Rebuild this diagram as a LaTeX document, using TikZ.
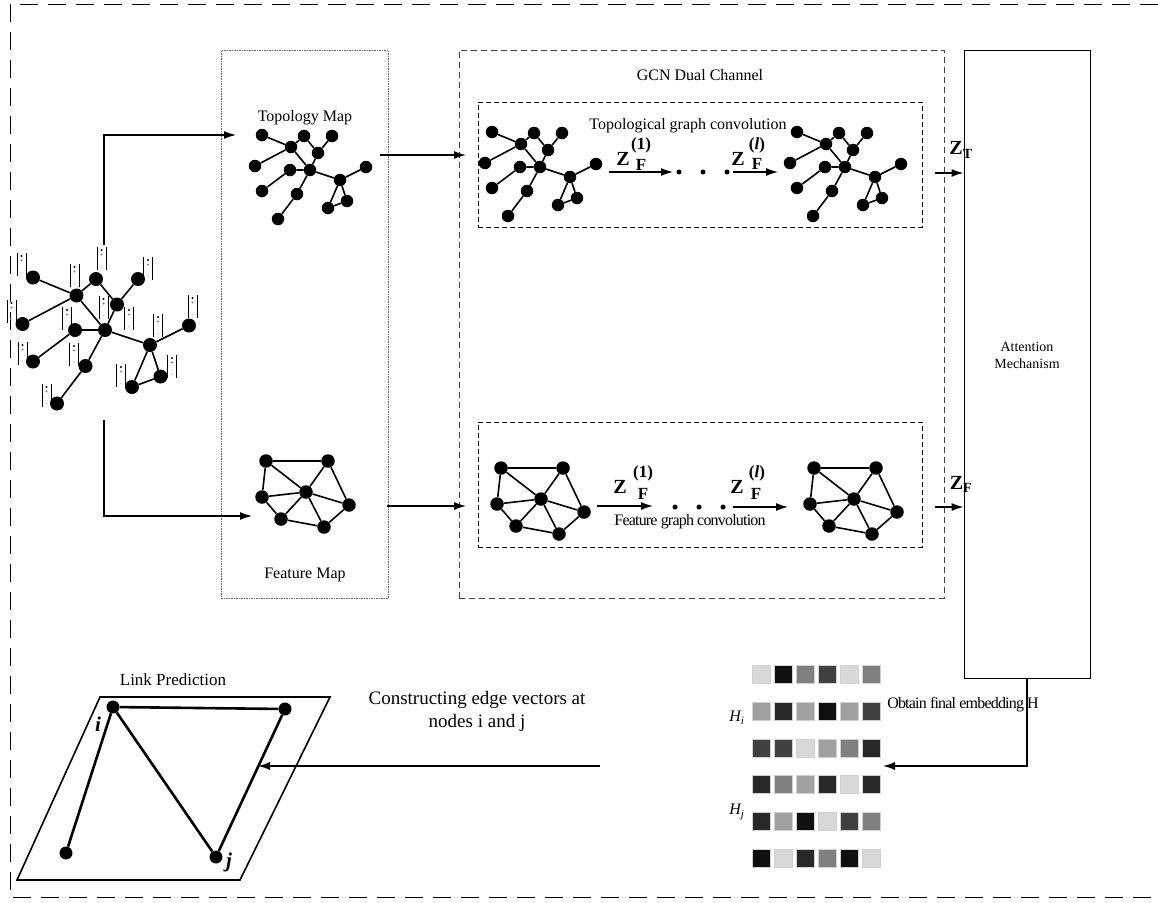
\documentclass[tikz,border=0pt]{standalone}
\usepackage{fontspec}
\setmainfont{Liberation Serif}
\usetikzlibrary{arrows.meta}
\definecolor{g1}{HTML}{101010}
\definecolor{g2}{HTML}{282828}
\definecolor{g3}{HTML}{404040}
\definecolor{g4}{HTML}{808080}
\definecolor{g5}{HTML}{A0A0A0}
\definecolor{g6}{HTML}{D8D8D8}
\newcommand\topog[5]{%
\begin{scope}[shift={(#2,#3)},scale=#4]
\node[#5] (#1A) at (-48,-35) {};
\node[#5] (#1B) at (-19,-23) {};
\node[#5] (#1C) at (-6,-34) {};
\node[#5] (#1D) at (22,-34) {};
\node[#5] (#1E) at (8,-17) {};
\node[#5] (#1F) at (-55,-4) {};
\node[#5] (#1G) at (-20,0) {};
\node[#5] (#1H) at (0,0) {};
\node[#5] (#1I) at (56,-3) {};
\node[#5] (#1J) at (30,10) {};
\node[#5] (#1K) at (-48,21) {};
\node[#5] (#1L) at (-13,24) {};
\node[#5] (#1M) at (37,31) {};
\node[#5] (#1N) at (18,38) {};
\node[#5] (#1O) at (-32,49) {};
\end{scope}
\draw[ed] (#1A)--(#1B) (#1F)--(#1B) (#1B)--(#1C) (#1C)--(#1E) (#1E)--(#1D) (#1E)--(#1H)
 (#1B)--(#1H) (#1G)--(#1H) (#1K)--(#1G) (#1H)--(#1L) (#1L)--(#1O) (#1H)--(#1J)
 (#1J)--(#1I) (#1J)--(#1N) (#1J)--(#1M) (#1M)--(#1N);
}
\newcommand\featg[4]{%
\begin{scope}[shift={(#2,#3)}]
\node[#4] (#1c) at (0,0) {};
\node[#4] (#1a) at (-40,-31) {};
\node[#4] (#1b) at (22,-31) {};
\node[#4] (#1d) at (-44,5) {};
\node[#4] (#1e) at (43,13) {};
\node[#4] (#1f) at (-25,27) {};
\node[#4] (#1g) at (18,35) {};
\end{scope}
\draw[ed] (#1a)--(#1b) (#1a)--(#1d) (#1a)--(#1c) (#1b)--(#1c) (#1b)--(#1e) (#1d)--(#1c)
 (#1d)--(#1f) (#1f)--(#1c) (#1f)--(#1g) (#1g)--(#1c) (#1g)--(#1e) (#1e)--(#1c);
}
\newcommand\vicon[2]{%
\draw[line width=1pt] ({#1-4.5},{#2})--({#1-4.5},{#2+23}) ({#1+4.5},{#2})--({#1+4.5},{#2+23});
\fill[black] ({#1},{#2+3}) circle (1.2pt);
\fill[g4] ({#1},{#2+7.5}) circle (1.2pt);
\fill[g6] ({#1},{#2+19.5}) circle (1.2pt);
}
\begin{document}
\begin{tikzpicture}[x=1pt,y=-1pt,
 gn/.style={circle,fill=black,inner sep=0pt,minimum size=12.5pt},
 bn/.style={circle,fill=black,inner sep=0pt,minimum size=14pt},
 fn/.style={circle,fill=black,inner sep=0pt,minimum size=13.5pt},
 ln/.style={circle,fill=black,inner sep=0pt,minimum size=13pt},
 ed/.style={line width=1.6pt},
 arr/.style={-{Latex[length=12pt,width=8pt]},line width=1.2pt},
 txt/.style={font=\fontsize{16}{19}\selectfont,inner sep=0pt},
 ctxt/.style={font=\fontsize{16}{19}\selectfont\addfontfeature{LetterSpace=-5},inner sep=0pt},
 ztx/.style={font=\fontsize{20}{21}\selectfont\bfseries,inner sep=0pt},
 zsm/.style={font=\fontsize{17}{18}\selectfont\bfseries,inner sep=0pt},
 outer/.style={dash pattern=on 18pt off 10pt,line width=1pt},
 gbox/.style={draw=black!75,dash pattern=on 6pt off 4pt,line width=0.9pt},
 ibox/.style={draw=black,dash pattern=on 5pt off 3pt,line width=0.9pt},
 dbox/.style={draw=black!60,dash pattern=on 1.5pt off 1pt,line width=1pt},
 cell/.style={draw=black!18,line width=0.7pt,minimum size=18pt,inner sep=0pt},
 dot/.style={circle,fill=black,inner sep=0pt,minimum size=5pt}
]
\useasboundingbox (0,0) rectangle (1158,902);
% outer dashed frame
\coordinate (o1) at (1158,4); \coordinate (o2) at (10,4);
\coordinate (o3) at (10,897); \coordinate (o4) at (1158,897);
\draw[outer] (o1) -- (o2) -- (o3) -- (o4);

% boxes
\node[dbox,minimum width=167pt,minimum height=548pt] (mapbox) at (304.5,324) {};
\node[gbox,minimum width=485pt,minimum height=548pt] (gcnbox) at (701.5,324) {};
\node[ibox,minimum width=444pt,minimum height=125pt] (tbox) at (700,164.5) {};
\node[ibox,minimum width=444pt,minimum height=125pt] (fbox) at (700,484.5) {};
\node[draw,line width=1pt,minimum width=126pt,minimum height=628pt] (att) at (1027,364) {};

% texts
\node[txt] (tmap) at (305,118) {Topology Map};
\node[txt] (fmap) at (305,575) {Feature Map};
\node[txt] (gcnl) at (700,75) {GCN Dual Channel};
\node[txt] (tgc) at (688,126) {Topological graph convolution};
\node[ctxt] (fgc) at (690,522) {Feature graph convolution};
\node[font=\fontsize{14}{17}\selectfont,align=center,inner sep=0pt] (attl) at (1027,355) {Attention\\Mechanism};
\node[ctxt] (obt) at (963,705) {Obtain final embedding H};
\node[align=center,inner sep=0pt,font=\fontsize{19}{23}\selectfont] (cons) at (477,711) {Constructing edge vectors at\\nodes i and j};
\node[txt,font=\fontsize{17}{19}\selectfont] (lp) at (173,680) {Link Prediction};

% left input graph with vector icons
\vicon{21.5}{253}\vicon{74.5}{264}\vicon{101.5}{247}\vicon{148}{257}\vicon{11.5}{300}
\vicon{67}{307}\vicon{103.5}{296}\vicon{129}{307}\vicon{192.5}{295}\vicon{158}{314}
\vicon{22.5}{342}\vicon{74}{343}\vicon{121}{364}\vicon{172}{355}\vicon{46.5}{384}
\topog{in}{105}{330}{1.5}{bn}

% topology and feature maps
\topog{tm}{310}{170}{1}{gn}
\featg{fm}{306}{492}{fn}

% convolution rows
\topog{tc1}{540}{167}{1}{gn}
\topog{tc2}{845}{167}{1}{gn}
\featg{fc1}{541}{499}{fn}
\featg{fc2}{854}{499}{fn}

% Z labels, top row
\node[ztx] (zt1) at (623,159) {Z};
\node[zsm] (zt1u) at (641,145) {(1)};
\node[zsm] (zt1d) at (641,165) {F};
\node[ztx] (zt2) at (738,159) {Z};
\node[zsm] (zt2u) at (757,145) {(\textit{l})};
\node[zsm] (zt2d) at (757,164) {F};
% Z labels, bottom row
\node[ztx] (zf1) at (620,487) {Z};
\node[zsm] (zf1u) at (643,473) {(1)};
\node[zsm] (zf1d) at (643,494) {F};
\node[ztx] (zf2) at (737,487) {Z};
\node[zsm] (zf2u) at (757,473) {(\textit{l})};
\node[zsm] (zf2d) at (756,494) {F};
\node[ztx] (zT) at (961,150) {Z\textsubscript{T}};
\node[ztx] (zF) at (961,484) {Z\textsubscript{F}};

% dots
\node[dot] (td1) at (679,172) {}; \node[dot] (td2) at (703,172) {}; \node[dot] (td3) at (727,172) {};
\node[dot] (fd1) at (675,507) {}; \node[dot] (fd2) at (699,507) {}; \node[dot] (fd3) at (723,507) {};

% arrows in channels
\coordinate (ta1) at (609,172); \coordinate (ta2) at (673,172);
\coordinate (ta3) at (733,172); \coordinate (ta4) at (778,172);
\coordinate (fa1) at (597,506); \coordinate (fa2) at (653,506);
\coordinate (fa3) at (733,507); \coordinate (fa4) at (788,507);
\draw[arr] (ta1)--(ta2); \draw[arr] (ta3)--(ta4);
\draw[arr] (fa1)--(fa2); \draw[arr] (fa3)--(fa4);

% input to maps
\coordinate (inT) at (104,245); \coordinate (mT) at (236,135);
\coordinate (inB) at (104,420); \coordinate (mB) at (252,516);
\draw[arr] (inT) |- (mT);
\draw[arr] (inB) |- (mB);
% maps to GCN
\coordinate (tmo) at (380,155); \coordinate (gti) at (466,155);
\coordinate (fmo) at (387,506); \coordinate (gfi) at (466,506);
\draw[arr] (tmo)--(gti);
\draw[arr] (fmo)--(gfi);
% GCN to attention
\coordinate (zto) at (935,173); \coordinate (zfo) at (935,507);
\draw[arr] (zto)--(zto-|att.west);
\draw[arr] (zfo)--(zfo-|att.west);

% embedding matrix
\foreach \r/\y/\cs in {1/674/{g6,g1,g4,g3,g6,g4},2/711/{g5,g2,g5,g1,g5,g3},3/748/{g3,g3,g6,g5,g4,g2},
 4/784/{g2,g4,g5,g2,g6,g2},5/821/{g2,g5,g1,g6,g3,g4},6/858/{g1,g6,g2,g4,g1,g6}}{
 \foreach \c [count=\k] in \cs {
  \node[cell,fill=\c] (m-\r-\k) at ({739+22*\k},\y) {};
 }
}
\node[font=\fontsize{16}{18}\selectfont\itshape,inner sep=0pt] (Hi) at (737,718) {H\textsubscript{i}};
\node[font=\fontsize{16}{18}\selectfont\itshape,inner sep=0pt] (Hj) at (737,812) {H\textsubscript{j}};

% attention to matrix, matrix to link prediction
\coordinate (emb) at (883,766);
\draw[arr] (att.south) |- (emb);
\coordinate (ma) at (600,766); \coordinate (lpa) at (258,766);
\draw[arr] (ma)--(lpa);

% link prediction plane
\coordinate (p1) at (100,697); \coordinate (p2) at (330,697);
\coordinate (p3) at (240,880); \coordinate (p4) at (17,880);
\draw[line width=1.6pt] (p1)--(p2)--(p3)--(p4)--cycle;
\node[ln] (li) at (113,707) {};
\node[ln] (lt) at (285,709) {};
\node[ln] (lb) at (66,853) {};
\node[ln] (lj) at (216,857) {};
\draw[line width=2.6pt] (li)--(lt) (li)--(lb) (li)--(lj) (lt)--(lj);
\node[font=\fontsize{21}{22}\selectfont\bfseries\itshape,inner sep=0pt] (il) at (98,724) {i};
\node[font=\fontsize{21}{22}\selectfont\bfseries\itshape,inner sep=0pt] (jl) at (229,862) {j};
\end{tikzpicture}
\end{document}
